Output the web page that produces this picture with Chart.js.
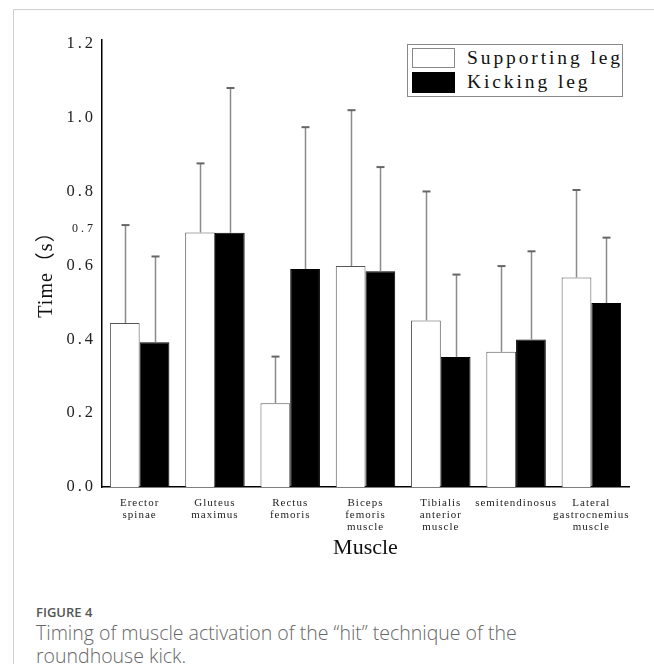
<!DOCTYPE html>
<html>
<head>
<meta charset="utf-8">
<script src="https://cdn.jsdelivr.net/npm/chart.js"></script>
<style>
  html, body { margin: 0; padding: 0; background: #fff; }
  #page { position: relative; width: 654px; height: 664px; overflow: hidden; }
  #frame { position: absolute; left: 13px; top: 9px; right: 0; bottom: 0;
           border-top: 1px solid #cfcfcf; border-left: 1px solid #cfcfcf; }
  #chartBox { position: absolute; left: 0; top: 0; width: 654px; height: 600px; }
  #legend { position: absolute; left: 407px; top: 44px; width: 216px; height: 53px;
            box-sizing: border-box; border: 1px solid #888; background: #fff;
            font-family: "Liberation Serif", serif; font-size: 19.5px; letter-spacing: 2.9px; color: #111; }
  .sw { position: absolute; left: 4px; width: 43px; box-sizing: border-box; }
  .lt { position: absolute; left: 59px; line-height: 22px; white-space: nowrap; }
  #cap { position: absolute; left: 36px; top: 603px; font-family: "Open Sans", sans-serif; color: #666; }
  #cap .fig { font-size: 13px; font-weight: 600; color: #555; line-height: 18px; }
  #cap .txt { font-size: 19.5px; font-weight: 300; line-height: 23px; margin-top: 0px; }
</style>
</head>
<body>
<div id="page">
  <div id="frame"></div>
  <div id="chartBox"><canvas id="myChart" width="654" height="600"></canvas></div>
  <div id="legend">
    <div class="sw" style="top:3px;height:20px;border:1px solid #888;background:#fff"></div>
    <div class="sw" style="top:27px;height:21px;background:#000"></div>
    <div class="lt" style="top:2px">Supporting leg</div>
    <div class="lt" style="top:26px">Kicking leg</div>
  </div>
  <div id="cap">
    <div class="fig">FIGURE 4</div>
    <div class="txt">Timing of muscle activation of the “hit” technique of the<br>roundhouse kick.</div>
  </div>
</div>
<script>
// kas isimleri (x ekseni)
const muscles = [
  ['Erector', 'spinae'],
  ['Gluteus', 'maximus'],
  ['Rectus', 'femoris'],
  ['Biceps', 'femoris', 'muscle'],
  ['Tibialis', 'anterior', 'muscle'],
  'semitendinosus',
  ['Lateral', 'gastrocnemius', 'muscle']
];

// ortalama süreler (s)
const supportingLeg = [0.444, 0.689, 0.227, 0.598, 0.451, 0.366, 0.567];
const kickingLeg = [0.392, 0.688, 0.590, 0.584, 0.352, 0.399, 0.498];

// standart sapmalar (sadece üst hata çubuğu)
const supportingSd = [0.265, 0.187, 0.126, 0.422, 0.349, 0.232, 0.237];
const kickingSd = [0.232, 0.392, 0.384, 0.282, 0.223, 0.239, 0.177];

// y ekseni etiketleri
const yTicks = [0.0, 0.2, 0.4, 0.6, 0.7, 0.8, 1.0, 1.2];

const serifFont = '"Liberation Serif", "Noto Sans CJK SC", serif';

// hata çubuklarını çizen küçük eklenti
const errorBars = {
  id: 'errorBars',
  afterDatasetsDraw(chart) {
    const ctx = chart.ctx;
    const yScale = chart.scales.y;
    chart.data.datasets.forEach((ds, i) => {
      const meta = chart.getDatasetMeta(i);
      meta.data.forEach((bar, j) => {
        const top = yScale.getPixelForValue(ds.data[j] + ds.sd[j]);
        const x = Math.round(bar.x) + 0.5;
        ctx.save();
        ctx.strokeStyle = '#8a8a8a';
        ctx.lineWidth = 1.5;
        ctx.beginPath();
        ctx.moveTo(x, bar.y);
        ctx.lineTo(x, top);
        ctx.stroke();
        ctx.strokeStyle = '#666';
        ctx.lineWidth = 2;
        ctx.beginPath();
        ctx.moveTo(x - 4, top);
        ctx.lineTo(x + 4, top);
        ctx.stroke();
        ctx.restore();
      });
    });
  }
};

// eksen yazılarında harf aralığı (orijinaldeki geniş yazı tipine benzesin diye)
const letterSpacing = {
  id: 'letterSpacing',
  beforeDraw(chart) {
    const sets = { x: [1, 0], y: [3, 1] };
    Object.keys(sets).forEach(id => {
      const s = chart.scales[id];
      if (!s || s._spaced) return;
      const [labSp, titSp] = sets[id];
      const origLabels = s.drawLabels;
      const origTitle = s.drawTitle;
      s.drawLabels = function (area) {
        chart.ctx.letterSpacing = labSp + 'px';
        origLabels.call(this, area);
        chart.ctx.letterSpacing = '0px';
      };
      s.drawTitle = function () {
        chart.ctx.letterSpacing = titSp + 'px';
        origTitle.call(this);
        chart.ctx.letterSpacing = '0px';
      };
      s._spaced = true;
    });
  }
};

const ctx = document.getElementById('myChart').getContext('2d');
const chart = new Chart(ctx, {
  type: 'bar',
  data: {
    labels: muscles,
    datasets: [
      {
        label: 'Supporting leg',
        data: supportingLeg,
        sd: supportingSd,
        backgroundColor: '#fff',
        borderColor: '#555',
        borderWidth: 1
      },
      {
        label: 'Kicking leg',
        data: kickingLeg,
        sd: kickingSd,
        backgroundColor: '#000',
        borderColor: '#000',
        borderWidth: 1
      }
    ]
  },
  options: {
    responsive: false,
    animation: false,
    layout: { padding: { left: 14, right: 25, top: 40, bottom: 33 } },
    datasets: { bar: { categoryPercentage: 0.79, barPercentage: 1.0 } },
    plugins: { legend: { display: false }, tooltip: { enabled: false } },
    scales: {
      x: {
        grid: { display: false, drawTicks: false },
        border: { display: true, color: '#000', width: 1.5 },
        afterFit(scale) { scale.height = 80; },
        ticks: {
          autoSkip: false,
          maxRotation: 0,
          minRotation: 0,
          padding: 10,
          color: '#222',
          font: { family: serifFont, size: 11, lineHeight: 1.1 }
        },
        title: {
          display: true,
          text: 'Muscle',
          color: '#111',
          padding: { top: 0, bottom: 7 },
          font: { family: serifFont, size: 22, lineHeight: 1.1 }
        }
      },
      y: {
        min: 0,
        max: 1.21,
        grid: { display: false, drawTicks: false },
        border: { display: true, color: '#000', width: 1.5 },
        afterFit(scale) { scale.width = 88; },
        afterBuildTicks(scale) {
          scale.ticks = yTicks.map(v => ({ value: v }));
        },
        ticks: {
          padding: 6,
          color: '#222',
          callback: v => Number(v).toFixed(1),
          font: c => ({ family: serifFont, size: c.tick && c.tick.value === 0.7 ? 12 : 16.5 })
        },
        title: {
          display: true,
          text: 'Time（s）  ',
          color: '#111',
          padding: { top: 21, bottom: 0 },
          font: { family: serifFont, size: 20, lineHeight: 1.2 }
        }
      }
    }
  },
  plugins: [errorBars, letterSpacing]
});
</script>
</body>
</html>
